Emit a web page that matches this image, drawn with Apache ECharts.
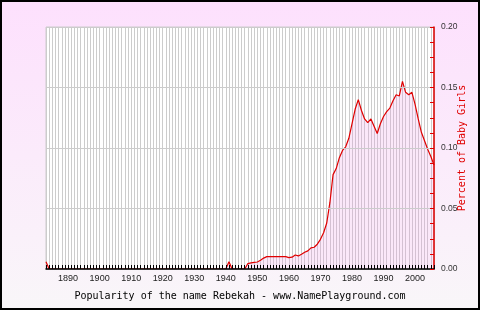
<!DOCTYPE html>
<html>
<head>
<meta charset="utf-8">
<script src="https://cdn.jsdelivr.net/npm/echarts@6/dist/echarts.min.js"></script>
<style>
html,body{margin:0;padding:0;}
#chart{width:480px;height:310px;}
</style>
</head>
<body>
<div id="chart"></div>
<script>
// ---- data ----
const startYear = 1883;
const endYear = 2006;
const percentGirls = [
  0.006, // 1883
  0,0,0,0,0,0,0,0,0,0, 0,0,0,0,0,0,0,0,0,0, 0,0,0,0,0,0,0,0,0,0,
  0,0,0,0,0,0,0,0,0,0, 0,0,0,0,0,0,0,0,0,0, 0,0,0,0,0,0,0, // 1884-1940
  0.006, // 1941
  0,0,0,0,0, // 1942-1946
  0.0045,0.0050,0.0055,0.0058,0.0072,0.0090,0.0102,0.0103,0.0103,0.0103, // 1947-1956
  0.0103,0.0103,0.0102,0.0094,0.0098,0.0116,0.0108,0.0122,0.0138,0.0150, // 1957-1966
  0.0175,0.0180,0.0205,0.0245,0.030,0.038,0.055,0.078,0.083,0.092,       // 1967-1976
  0.098,0.101,0.108,0.120,0.132,0.140,0.131,0.124,0.121,0.124,           // 1977-1986
  0.118,0.112,0.120,0.126,0.130,0.133,0.139,0.144,0.143,0.155,           // 1987-1996
  0.146,0.144,0.146,0.136,0.124,0.113,0.106,0.099,0.093,0.086            // 1997-2006
];
const yTicks = [0, 0.05, 0.10, 0.15, 0.20];
const titleText = 'Popularity of the name Rebekah - www.NamePlayground.com';
const yName = 'Percent of Baby Girls';

const seriesData = percentGirls.map((v, i) => [startYear + i, v]);

const chart = echarts.init(document.getElementById('chart'), null, {renderer: 'canvas'});
chart.setOption({
  animation: false,
  backgroundColor: {
    type: 'linear', x: 0, y: 0, x2: 0, y2: 1,
    colorStops: [{offset: 0, color: '#fde0fd'}, {offset: 1, color: '#f9f6f9'}]
  },
  title: {
    text: titleText,
    left: 'center',
    top: 286,
    textStyle: {fontFamily: 'DejaVu Sans Mono', fontSize: 10, fontWeight: 'normal', color: '#000'}
  },
  grid: {
    left: 46, right: 46, top: 27, bottom: 41,
    containLabel: false,
    outerBoundsMode: 'none',
    show: true, backgroundColor: '#ffffff', borderColor: '#cccccc', borderWidth: 1
  },
  xAxis: [{
    type: 'value', min: startYear, max: endYear, interval: 1,
    axisLine: {show: false},
    axisTick: {show: false},
    splitLine: {show: true, lineStyle: {color: '#cccccc', width: 1}},
    axisLabel: {
      show: true, margin: 5,
      fontFamily: 'Liberation Sans', fontSize: 9, color: '#222',
      formatter: v => (v % 10 === 0 ? String(v) : '')
    }
  }, {
    type: 'value', min: startYear, max: endYear, interval: 1, position: 'bottom', z: 10,
    axisLine: {show: true, lineStyle: {color: '#000', width: 1.5}},
    axisTick: {show: true, inside: true, length: 4, lineStyle: {color: '#000', width: 1}},
    splitLine: {show: false},
    axisLabel: {show: false}
  }],
  yAxis: {
    type: 'value', position: 'right', min: 0, max: 0.2, interval: 0.05,
    z: 10,
    name: yName, nameLocation: 'middle', nameRotate: 90, nameGap: 23,
    nameMoveOverlap: false,
    nameTextStyle: {fontFamily: 'DejaVu Sans Mono', fontSize: 10, color: '#e00000'},
    axisLine: {show: true, lineStyle: {color: '#e00000', width: 1.5}},
    axisTick: {show: true, inside: true, length: 4, lineStyle: {color: '#e00000'}},
    minorTick: {show: true, splitNumber: 4, length: 4, lineStyle: {color: '#e00000'}},
    splitLine: {show: true, lineStyle: {color: '#cccccc', width: 1}},
    axisLabel: {
      margin: 7, fontFamily: 'Liberation Sans', fontSize: 8.5, color: '#333',
      formatter: v => v.toFixed(2)
    }
  },
  series: [{
    type: 'line',
    xAxisIndex: 0,
    data: seriesData,
    symbol: 'none',
    lineStyle: {color: '#e00000', width: 1.2},
    areaStyle: {color: 'rgba(240,160,230,0.35)'},
    z: 3
  }],
  graphic: [{
    type: 'rect', z: 100,
    shape: {x: 1, y: 1, width: 478, height: 308},
    style: {fill: null, stroke: '#000', lineWidth: 2}
  }]
});
</script>
</body>
</html>
